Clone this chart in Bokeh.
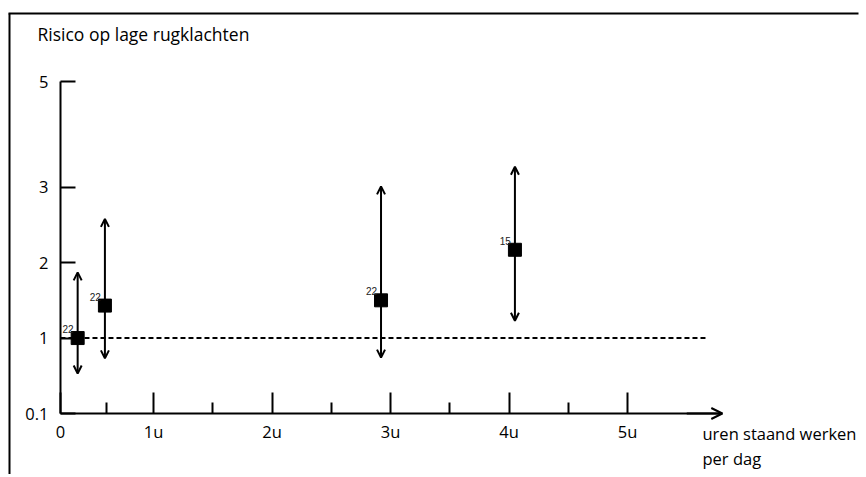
from bokeh.plotting import figure
from bokeh.models import Range1d, FixedTicker, Arrow, OpenHead, ColumnDataSource, Label
from bokeh.core.properties import value
from bokeh.embed import file_html
from bokeh.resources import INLINE

# ---- data ----
hours = [0.36, 0.59, 2.92, 4.05]          # uren staand werken per dag
risk = [1.0, 1.43, 1.50, 2.17]            # relatief risico
risk_low = [0.53, 0.73, 0.74, 1.23]
risk_high = [1.87, 2.58, 3.01, 3.27]
n_studies = ["22", "22", "22", "15"]

x_ticks = [0.215, 1, 2, 3, 4, 5]
x_tick_labels = ["0", "1u", "2u", "3u", "4u", "5u"]
x_minor_ticks = [0.6, 1.5, 2.5, 3.5, 4.5]
y_ticks = [0, 1, 2, 3, 4.4]
y_tick_labels = ["0.1", "1", "2", "3", "5"]
reference_risk = 1.0
ref_line_end = 5.66

# axis extents (data units)
X0, X1 = 0.215, 5.8
Y0, Y1 = 0.0, 4.4

# ---- layout (canvas pixels) ----
W, H = 864, 474
PX_PER_H, H_ORIGIN_PX = 118.5, 34.5
PX_PER_Y, Y_ORIGIN_PX = 75.45, 413.0

FONT = "Open Sans"
FS = "16.5px"

p = figure(width=W, height=H, output_backend="svg", toolbar_location=None,
           x_range=Range1d(-H_ORIGIN_PX / PX_PER_H, (W - H_ORIGIN_PX) / PX_PER_H),
           y_range=Range1d((Y_ORIGIN_PX - H) / PX_PER_Y, Y_ORIGIN_PX / PX_PER_Y),
           min_border=0)
p.outline_line_color = None
p.grid.visible = False
p.background_fill_color = "white"
p.border_fill_color = "white"


def px_x(px):
    return (px - H_ORIGIN_PX) / PX_PER_H


def px_y(py):
    return (Y_ORIGIN_PX - py) / PX_PER_Y


# x axis
xa = p.xaxis[0]
xa.fixed_location = Y0
xa.bounds = (X0, X1)
xa.ticker = FixedTicker(ticks=x_ticks, minor_ticks=x_minor_ticks)
xa.major_label_overrides = {t: l for t, l in zip(x_ticks, x_tick_labels)}
xa.axis_line_width = 2
xa.major_tick_line_width = 2
xa.minor_tick_line_width = 2
xa.major_tick_in = 21
xa.major_tick_out = 0
xa.minor_tick_in = 11
xa.minor_tick_out = 0
xa.major_label_standoff = 6
xa.major_label_text_font = FONT
xa.major_label_text_font_size = FS
xa.major_label_text_color = "black"

# y axis
ya = p.yaxis[0]
ya.fixed_location = X0
ya.bounds = (Y0, Y1)
ya.ticker = FixedTicker(ticks=y_ticks, minor_ticks=[])
ya.major_label_overrides = {t: l for t, l in zip(y_ticks, y_tick_labels)}
ya.axis_line_width = 2
ya.major_tick_line_width = 2
ya.major_tick_in = 15
ya.major_tick_out = 0
ya.minor_tick_line_color = None
ya.major_label_standoff = 12
ya.major_label_text_font = FONT
ya.major_label_text_font_size = FS
ya.major_label_text_color = "black"

# outer frame (only top and left edges visible)
p.segment(x0=[px_x(9), px_x(8)], y0=[px_y(H), px_y(13)],
          x1=[px_x(9), px_x(W - 6)], y1=[px_y(13), px_y(13)],
          line_color="black", line_width=2)

# arrow at end of x axis
p.add_layout(Arrow(x_start=X1 - 0.3, y_start=Y0, x_end=X1, y_end=Y0,
                   end=OpenHead(size=11, line_width=2), line_width=2, line_color="black"))

# reference line
p.segment(x0=[X0], y0=[reference_risk], x1=[ref_line_end], y1=[reference_risk],
          line_color="black", line_width=2, line_dash="5 3")

src = ColumnDataSource(dict(x=hours, y=risk, lo=risk_low, hi=risk_high, n=n_studies))

p.add_layout(Arrow(x_start="x", y_start="lo", x_end="x", y_end="hi", source=src,
                   start=OpenHead(size=8, line_width=2), end=OpenHead(size=8, line_width=2),
                   line_width=2, line_color="black"))

p.scatter("x", "y", source=src, marker="square", size=13, color="black")

p.text("x", "y", text="n", source=src, x_offset=-4, y_offset=-9,
       text_align="right", text_baseline="alphabetic",
       text_font=value("Liberation Sans"), text_font_size="10px", text_color="#222222")

# texts
for txt, lx, ly, fs in [("Risico op lage rugklachten", 37, 33, "17.5px"),
                        ("uren staand werken", 702, 433, FS),
                        ("per dag", 702, 458, FS)]:
    p.add_layout(Label(x=px_x(lx), y=px_y(ly), text=txt,
                       text_font=FONT, text_font_size=fs, text_baseline="middle",
                       text_align="left", text_color="black"))

open("out.html", "w").write(file_html(p, INLINE))
